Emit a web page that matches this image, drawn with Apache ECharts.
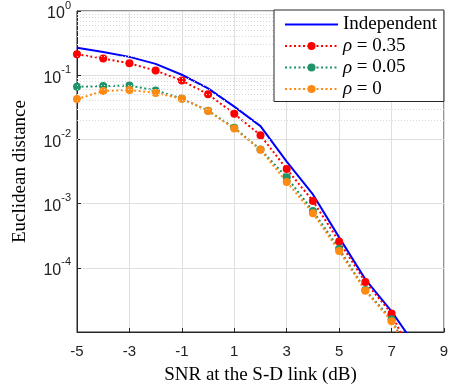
<!DOCTYPE html>
<html>
<head>
<meta charset="utf-8">
<script src="https://cdn.jsdelivr.net/npm/echarts@6/dist/echarts.min.js"></script>
<style>
  html, body { margin: 0; padding: 0; background: #fff; }
  #chart { width: 456px; height: 390px; }
</style>
</head>
<body>
<div id="chart"></div>
<script>
// SNR at the S-D link (dB), x categories
const snr = ["-5", "-4", "-3", "-2", "-1", "0", "1", "2", "3", "4", "5", "6", "7", "8", "9"];

// Euclidean distance per curve
const independent = [0.267, 0.23, 0.193, 0.15, 0.1016, 0.0623, 0.0324, 0.0161, 0.0045, 0.00139, 2.98e-4, 6.6e-5, 2.1e-5, 5.4e-6];
const rho035 = [0.212, 0.182, 0.153, 0.118, 0.0825, 0.0505, 0.025, 0.0116, 0.00345, 0.0011, 2.56e-4, 6.0e-5, 1.94e-5, 2.6e-6];
const rho005 = [0.066, 0.0676, 0.069, 0.058, 0.0434, 0.028, 0.0152, 0.00695, 0.00258, 7.7e-4, 1.98e-4, 4.5e-5, 1.58e-5, 2.5e-6];
const rho0 = [0.0424, 0.0567, 0.0588, 0.0529, 0.043, 0.0278, 0.0148, 0.0069, 0.00217, 7.1e-4, 1.82e-4, 4.4e-5, 1.47e-5, 2.5e-6];

const seriesNames = ["Independent", "ρ = 0.35", "ρ = 0.05", "ρ = 0"];

// minor log grid lines 2..9 x 10^k
const minorGrid = [];
for (let k = -5; k < 0; k++) {
  for (let m = 2; m <= 9; m++) minorGrid.push({ yAxis: m * Math.pow(10, k) });
}

const chart = echarts.init(document.getElementById("chart"));

const oddTick = (i) => i % 2 === 0;
const axisColor = "#262626";
const dotted = [2, 2.5];

function dottedSeries(name, data, color) {
  return {
    name: name,
    type: "line",
    data: data,
    symbol: "circle",
    symbolSize: 8,
    showSymbol: true,
    clip: true,
    z: 3,
    itemStyle: { color: color },
    lineStyle: { color: color, width: 2, type: dotted },
  };
}

chart.setOption({
  animation: false,
  grid: {
    left: 77,
    right: 12,
    top: 8,
    bottom: 53,
    show: true,
    borderColor: axisColor,
    borderWidth: 1,
  },
  legend: {
    data: [
      { name: seriesNames[0], itemStyle: { opacity: 0 } },
      seriesNames[1],
      seriesNames[2],
      seriesNames[3],
    ],
    orient: "vertical",
    left: 274,
    top: 10,
    z: 20,
    padding: [5, 7, 3, 10],
    itemWidth: 53,
    itemHeight: 10,
    itemGap: 2.5,
    backgroundColor: "#fff",
    borderColor: "#262626",
    borderWidth: 1,
    formatter: (name) =>
      name.startsWith("ρ") ? "{i|ρ}{t|" + name.slice(1) + "}" : "{t|" + name + "}",
    textStyle: {
      rich: {
        i: { fontFamily: "Liberation Serif", fontStyle: "italic", fontSize: 19, lineHeight: 14, color: "#000" },
        t: { fontFamily: "Liberation Serif", fontSize: 19, lineHeight: 14, color: "#000" },
      },
    },
  },
  xAxis: [
    {
      type: "category",
      data: snr,
      boundaryGap: false,
      name: "SNR at the S-D link (dB)",
      nameLocation: "middle",
      nameGap: 34,
      nameTextStyle: { fontFamily: "Liberation Serif", fontSize: 19, color: "#000" },
      axisLine: { lineStyle: { color: axisColor } },
      axisTick: { inside: true, length: 4, interval: oddTick, lineStyle: { color: axisColor } },
      axisLabel: {
        interval: oddTick,
        fontFamily: "Liberation Sans",
        fontSize: 15,
        color: "#222",
        margin: 12,
      },
      splitLine: { show: true, interval: oddTick, lineStyle: { color: "#dfdfdf" } },
    },
  ],
  yAxis: [
    {
      type: "log",
      logBase: 10,
      min: 1e-5,
      max: 1,
      name: "Euclidean distance",
      nameLocation: "middle",
      nameGap: 47,
      nameTextStyle: { fontFamily: "Liberation Serif", fontSize: 19, color: "#000" },
      axisLine: { show: true, lineStyle: { color: axisColor } },
      axisTick: { show: true, inside: true, length: 4, lineStyle: { color: axisColor } },
      axisLabel: {
        fontFamily: "Liberation Sans",
        color: "#222",
        margin: 6,
        formatter: (v) => {
          const e = Math.round(Math.log10(v));
          if (e === -5) return "";
          return "{b|10}{e|" + e + "}";
        },
        rich: {
          b: { fontFamily: "Liberation Sans", fontSize: 16, lineHeight: 22, verticalAlign: "bottom", color: "#222" },
          e: { fontFamily: "Liberation Sans", fontSize: 11, lineHeight: 22, verticalAlign: "top", color: "#222" },
        },
      },
      splitLine: { show: true, lineStyle: { color: "#dfdfdf" } },
    },
  ],
  series: [
    {
      name: "minor",
      type: "line",
      data: [],
      z: 1,
      silent: true,
      markLine: {
        silent: true,
        symbol: "none",
        label: { show: false },
        lineStyle: { color: "#d8d8d8", width: 1, type: [1, 2] },
        data: minorGrid,
      },
    },
    {
      name: seriesNames[0],
      type: "line",
      data: independent,
      showSymbol: false,
      symbol: "none",
      clip: true,
      z: 3,
      itemStyle: { color: "#0000ff" },
      lineStyle: { color: "#0000ff", width: 2 },
    },
    dottedSeries(seriesNames[1], rho035, "#ff0000"),
    dottedSeries(seriesNames[2], rho005, "#1f9468"),
    dottedSeries(seriesNames[3], rho0, "#ff8a12"),
  ],
});
</script>
</body>
</html>
